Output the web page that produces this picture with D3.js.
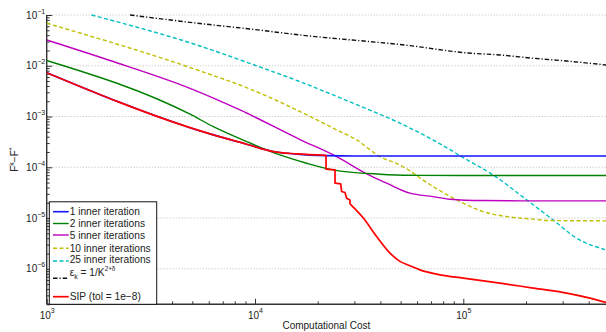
<!DOCTYPE html>
<html>
<head>
<meta charset="utf-8">
<script src="https://cdn.jsdelivr.net/npm/d3@7"></script>
<style>
  body { margin: 0; background: #fff; }
  text { font-family: "Liberation Sans", Arial, sans-serif; fill: #222; }
</style>
</head>
<body>
<div id="chart"></div>
<script>
// canvas
const width = 606,
  height = 332

// values (cost, F^k - F^*)
const cost1 = [1000, 4875, 6310, 9120, 12240, 15850, 21930, 30000, 500000]
const err1 = [7.31e-3, 6.04e-4, 4.35e-4, 2.85e-4, 2.04e-4, 1.82e-4, 1.70e-4, 1.67e-4, 1.67e-4]

const cost2 = [1000, 4875, 6310, 9120, 13180, 17700, 23660, 39810, 55460, 100000, 500000]
const err2 = [1.27e-2, 1.11e-3, 6.33e-4, 3.21e-4, 1.75e-4, 1.20e-4, 8.89e-5, 7.31e-5, 6.95e-5, 6.87e-5, 6.87e-5]

const cost5 = [1000, 2014, 4875, 8472, 16440, 24660, 34360, 42870, 55460, 71550, 86300, 124400, 208900, 500000]
const err5 = [3.22e-2, 1.27e-2, 3.60e-3, 1.35e-3, 3.52e-4, 1.62e-4, 7.42e-5, 4.87e-5, 3.09e-5, 2.65e-5, 2.35e-5, 2.21e-5, 2.18e-5, 2.18e-5]

const cost10 = [1000, 5445, 9460, 15850, 24660, 30760, 39810, 49660, 71550, 96390, 124400, 161500, 216800, 260600, 500000]
const err10 = [6.87e-2, 7.91e-3, 3.49e-3, 1.35e-3, 5.45e-4, 3.46e-4, 1.62e-4, 1.11e-4, 4.17e-5, 2.11e-5, 1.34e-5, 1.07e-5, 9.51e-6, 8.93e-6, 8.81e-6]

const cost25 = [1640, 5445, 9460, 16440, 28570, 49660, 71550, 103800, 138900, 201400, 269600, 349900, 484400]
const err25 = [0.1, 2.45e-2, 1.11e-2, 4.86e-3, 1.94e-3, 7.38e-4, 3.46e-4, 1.42e-4, 7.08e-5, 2.28e-5, 9.22e-6, 4.02e-6, 2.36e-6]

const costEps = [2512, 5445, 9460, 16440, 55460, 104000, 150000, 216800, 313300, 484400]
const errEps = [0.1, 0.068, 0.053, 0.0404, 0.0249, 0.0179, 0.0163, 0.01406, 0.0124, 0.01037]

const costSip = [1000, 4875, 6310, 9120, 12240, 15850, 21930, 21930, 24220, 24220, 25780, 26060, 27040, 27540, 28570, 28570,
  33110, 38370, 44460, 49660, 55460, 61940, 77310, 100000, 150000, 216800, 313300, 405500, 484400]
const errSip = [7.31e-3, 6.04e-4, 4.35e-4, 2.85e-4, 2.04e-4, 1.84e-4, 1.72e-4, 9.18e-5, 8.89e-5, 4.87e-5, 4.71e-5, 3.33e-5, 3.18e-5, 2.46e-5, 2.28e-5, 1.90e-5,
  1.0e-5, 4.33e-6, 2.04e-6, 1.40e-6, 1.15e-6, 9.55e-7, 7.62e-7, 6.56e-7, 5.23e-7, 4.17e-7, 3.33e-7, 2.65e-7, 2.17e-7]
// SIP pieces: smooth start, staircase, smooth tail
const sipParts = [[0, 7, true], [6, 16, false], [15, costSip.length, true]]

const seriesNames = ['1 inner iteration', '2 inner iterations', '5 inner iterations',
  '10 inner iterations', '25 inner iterations', 'eps', 'SIP (tol = 1e\u22128)']

const xDecades = [3, 4, 5]
const yDecades = [-6, -5, -4, -3, -2, -1]

let svg = d3.select('#chart')
  .append('svg')
  .attr('width', width)
  .attr('height', height)

const x = d3.scaleLog()
  .domain([1e3, 5e5])
  .range([46.7, 608.9])

const y = d3.scaleLog()
  .domain([2e-7, 1e-1])
  .range([304.3, 15])

const x0 = x.range()[0], y0 = y.range()[0], yTop = y.range()[1]

svg.append('clipPath').attr('id', 'plot')
  .append('rect')
  .attr('x', x0).attr('y', yTop - 2)
  .attr('width', width - x0).attr('height', y0 - yTop + 2)

// horizontal dotted grid at decades
svg.append('g')
  .selectAll('line')
  .data(yDecades.map(d => Math.pow(10, d)))
  .enter()
  .append('line')
  .attr('x1', x0).attr('x2', width)
  .attr('y1', d => y(d)).attr('y2', d => y(d))
  .attr('stroke', '#bbb')
  .attr('stroke-width', 1)
  .attr('stroke-dasharray', '1,2')

// minor tick values
let minorY = []
for (let e = -7; e <= -2; e++) for (let m = 2; m <= 9; m++) {
  let v = m * Math.pow(10, e)
  if (v >= 2e-7 && v <= 0.1) minorY.push(v)
}
let minorX = []
for (let e = 3; e <= 5; e++) for (let m = 2; m <= 9; m++) {
  let v = m * Math.pow(10, e)
  if (v <= 5e5) minorX.push(v)
}

// axes, ticks pointing inward
let drawAxis = (axis, transform) => {
  let g = svg.append('g').attr('transform', transform).call(axis)
  g.select('.domain').remove()
  g.selectAll('line').attr('stroke', '#333').attr('stroke-width', 1)
}
drawAxis(d3.axisLeft(y).tickValues(minorY).tickSize(-3).tickFormat(''), `translate(${x0},0)`)
drawAxis(d3.axisLeft(y).tickValues(yDecades.map(d => Math.pow(10, d))).tickSize(-5.5).tickFormat(''), `translate(${x0},0)`)
drawAxis(d3.axisBottom(x).tickValues(minorX).tickSize(-3).tickFormat(''), `translate(0,${y0})`)
drawAxis(d3.axisBottom(x).tickValues(xDecades.map(d => Math.pow(10, d))).tickSize(-5.5).tickFormat(''), `translate(0,${y0})`)

svg.append('line')
  .attr('x1', x0).attr('x2', x0).attr('y1', yTop).attr('y2', y0)
  .attr('stroke', '#333').attr('stroke-width', 1.4)
svg.append('line')
  .attr('x1', x0).attr('x2', width).attr('y1', y0).attr('y2', y0)
  .attr('stroke', '#333').attr('stroke-width', 1.4)

// tick labels 10^n
let yLab = svg.append('g').selectAll('text')
  .data(yDecades)
  .enter()
  .append('text')
  .attr('x', x0 - 1.5)
  .attr('y', d => y(Math.pow(10, d)) + 3.5)
  .attr('text-anchor', 'end')
  .style('font-size', '10px')
yLab.append('tspan').text('10')
yLab.append('tspan').attr('dy', -5).style('font-size', '7px').text(d => '\u2212' + (-d))

let xLab = svg.append('g').selectAll('text')
  .data(xDecades)
  .enter()
  .append('text')
  .attr('x', d => x(Math.pow(10, d)) + 0.5)
  .attr('y', y0 + 14.2)
  .attr('text-anchor', 'middle')
  .style('font-size', '10px')
xLab.append('tspan').text('10')
xLab.append('tspan').attr('dy', -5.5).style('font-size', '7px').text(d => d)

// axis titles
svg.append('text')
  .attr('x', (x0 + width) / 2)
  .attr('y', 328.5)
  .attr('text-anchor', 'middle')
  .style('font-size', '10px')
  .text('Computational Cost')

let yTitle = svg.append('text')
  .attr('transform', `translate(18,${(yTop + y0) / 2}) rotate(-90)`)
  .attr('text-anchor', 'middle')
  .style('font-size', '10px')
yTitle.append('tspan').text('F')
yTitle.append('tspan').attr('dy', -4).style('font-size', '7px').text('k')
yTitle.append('tspan').attr('dy', 4).text('\u2212F')
yTitle.append('tspan').attr('dy', -4).style('font-size', '7px').text('*')

// the curves
const series = [
  { c: costEps, e: errEps, color: '#111', w: 1.4, dash: '4.5,2,1.2,2' },
  { c: cost25, e: err25, color: '#00bfbf', w: 1.4, dash: '4,2.5' },
  { c: cost10, e: err10, color: '#bfbf00', w: 1.4, dash: '4,2.5' },
  { c: cost5, e: err5, color: '#bf00bf', w: 1.4, dash: null },
  { c: cost2, e: err2, color: '#008000', w: 1.4, dash: null },
  { c: cost1, e: err1, color: '#1515ff', w: 1.6, dash: null },
  { c: costSip, e: errSip, color: '#ff0000', w: 1.7, dash: null }
]

let smooth = d3.line()
  .x(d => x(d[0]))
  .y(d => y(d[1]))
  .curve(d3.curveMonotoneX)

let straight = d3.line()
  .x(d => x(d[0]))
  .y(d => y(d[1]))

let plot = svg.append('g').attr('clip-path', 'url(#plot)')
series.forEach((s, si) => {
  let pts = s.c.map((v, i) => [v, s.e[i]])
  let parts = si === 6 ? sipParts : [[0, pts.length, true]]
  parts.forEach(p => {
    plot.append('path')
      .datum(pts.slice(p[0], p[1]))
      .attr('fill', 'none')
      .attr('stroke', s.color)
      .attr('stroke-width', s.w)
      .attr('stroke-dasharray', s.dash)
      .attr('stroke-linejoin', 'round')
      .attr('d', p[2] ? smooth : straight)
  })
})

// legend
let legend = svg.append('g')
legend.append('rect')
  .attr('x', 49.3).attr('y', 201.8)
  .attr('width', 107.4).attr('height', 102.5)
  .attr('fill', '#fff')
  .attr('stroke', '#111')
  .attr('stroke-width', 1)

const legendOrder = [5, 4, 3, 2, 1, 0, 6]
const rowLine = [211.7, 223.5, 235, 248.3, 261, 278.3, 296.7]
const rowText = [215, 227, 238.5, 251.5, 263, 275.5, 300]

legendOrder.forEach((si, i) => {
  let s = series[si]
  legend.append('line')
    .attr('x1', 53).attr('x2', 68.7)
    .attr('y1', rowLine[i]).attr('y2', rowLine[i])
    .attr('stroke', s.color)
    .attr('stroke-width', s.w)
    .attr('stroke-dasharray', s.dash)
  let t = legend.append('text')
    .attr('x', 69.7)
    .attr('y', rowText[i])
    .style('font-size', '10.2px')
  if (seriesNames[i] === 'eps') {
    t.append('tspan').text('\u03b5')
    t.append('tspan').attr('dy', 3).style('font-size', '7px').text('k')
    t.append('tspan').attr('dy', -3).text(' = 1/K')
    t.append('tspan').attr('dy', -5).style('font-size', '6.3px').text('2+\u03b4')
  } else {
    t.text(seriesNames[i])
  }
})
</script>
</body>
</html>
